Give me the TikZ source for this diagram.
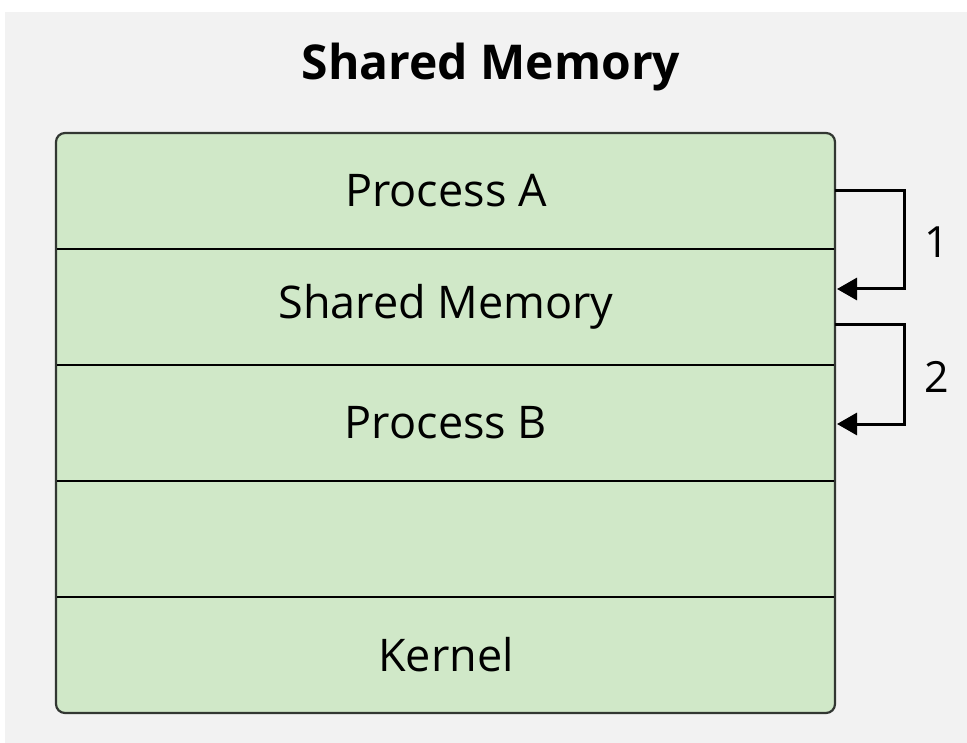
\documentclass[tikz,border=0pt]{standalone}
\usepackage{fontspec}
\setmainfont{Open Sans}
\usetikzlibrary{arrows.meta}
\definecolor{bggray}{RGB}{242,242,242}
\definecolor{rowgreen}{RGB}{208,232,200}
\definecolor{edgegray}{RGB}{50,55,50}
\begin{document}
\begin{tikzpicture}[x=1pt,y=-1pt,
  rowtext/.style={font=\fontsize{45}{53}\selectfont, text=black, inner sep=0pt, anchor=center},
  numtext/.style={font=\fontsize{43}{50}\selectfont, text=black, inner sep=0pt},
  flow/.style={line width=3pt, -{Triangle[length=20pt,width=22pt]}},
  divider/.style={line width=1.4pt, black}]
\useasboundingbox (0,0) rectangle (967,743);
\fill[bggray] (5,12) rectangle (967,743);
% main box
\filldraw[fill=rowgreen, draw=edgegray, line width=2.2pt, rounded corners=9pt] (56,133) rectangle (835,713);
\foreach \yy in {249,365,481,597} {\draw[divider] (57,\yy) -- (834,\yy);}
\node[font=\bfseries\fontsize{48}{56}\selectfont, inner sep=0pt] (title) at (491,67) {Shared Memory};
\node[rowtext] (pa) at (446,191) {Process A};
\node[rowtext] (sm) at (446,307) {Shared Memory};
\node[rowtext] (pb) at (446,423) {Process B};
\node (empty) at (446,539) {};
\node[rowtext] (kr) at (446,655) {Kernel};
% anchors on the right edge
\coordinate (a1s) at (835,191);
\coordinate (a1e) at (837,289);
\coordinate (a2s) at (835,325);
\coordinate (a2e) at (837,424);
\draw[flow] (a1s) -- (904,191) -- (904,289) -- (a1e);
\draw[flow] (a2s) -- (904,325) -- (904,424) -- (a2e);
\node[numtext] (n1) at (937,242) {1};
\node[numtext] (n2) at (937,377) {2};
\end{tikzpicture}
\end{document}
